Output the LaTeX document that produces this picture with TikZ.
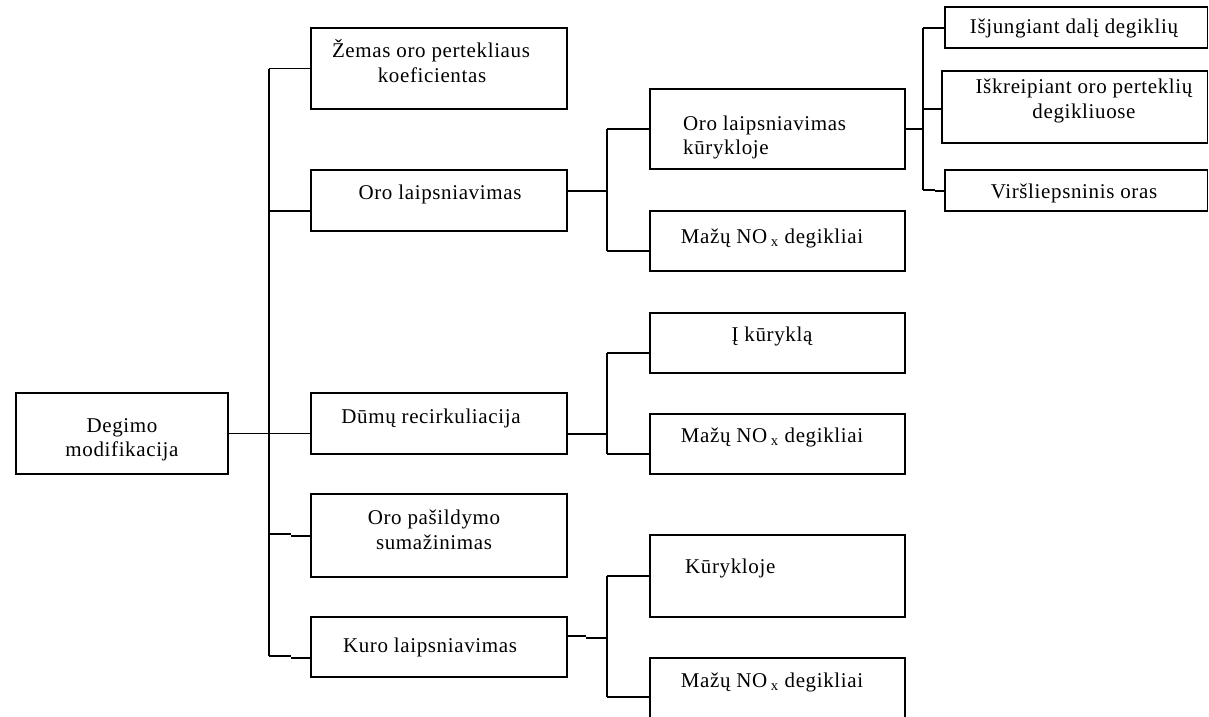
\documentclass[tikz,border=0pt]{standalone}
\usepackage{fontspec}
\setmainfont{Liberation Serif}[LetterSpace=3]
\begin{document}
\begin{tikzpicture}[x=1pt,y=-1pt,
  box/.style={draw=black,line width=1.4pt,rectangle,inner sep=0pt},
  ln/.style={draw=black,line width=1.4pt},
  txt/.style={inner sep=0pt,font=\fontsize{21}{25}\selectfont}]
\useasboundingbox (0,0) rectangle (1209,716);
\clip (0,0) rectangle (1209,716);
% boxes
\node[box,minimum width=212pt,minimum height=81pt] (root) at (122,433.5) {};
\node[box,minimum width=256pt,minimum height=81pt] (a1) at (439,68.5) {};
\node[box,minimum width=256pt,minimum height=61pt] (a2) at (439,200.5) {};
\node[box,minimum width=256pt,minimum height=61pt] (a3) at (439,423.5) {};
\node[box,minimum width=256pt,minimum height=83pt] (a4) at (439,535.5) {};
\node[box,minimum width=256pt,minimum height=60pt] (a5) at (439,647) {};
\node[box,minimum width=255pt,minimum height=80pt] (b1) at (777.5,129) {};
\node[box,minimum width=255pt,minimum height=60pt] (b2) at (777.5,241) {};
\node[box,minimum width=255pt,minimum height=60pt] (b3) at (777.5,343) {};
\node[box,minimum width=255pt,minimum height=60pt] (b4) at (777.5,444) {};
\node[box,minimum width=255pt,minimum height=82pt] (b5) at (777.5,576) {};
\node[box,minimum width=255pt,minimum height=102pt] (b6) at (777.5,709) {};
\node[box,minimum width=262.5pt,minimum height=41pt] (c1) at (1076.25,27.5) {};
\node[box,minimum width=265.5pt,minimum height=72pt] (c2) at (1074.75,107) {};
\node[box,minimum width=262.5pt,minimum height=41pt] (c3) at (1076.25,190.5) {};
% texts
\node[txt,anchor=base] (troot1) at (122,432) {Degimo};
\node[txt,anchor=base] (troot2) at (122,456) {modifikacija};
\node[txt,anchor=base] (ta1a) at (431,57) {Žemas oro pertekliaus};
\node[txt,anchor=base] (ta1b) at (432,82) {koeficientas};
\node[txt,anchor=base] (ta2) at (440,199) {Oro laipsniavimas};
\node[txt,anchor=base] (ta3) at (431,423) {Dūmų recirkuliacija};
\node[txt,anchor=base] (ta4a) at (434,524) {Oro pašildymo};
\node[txt,anchor=base] (ta4b) at (434,549) {sumažinimas};
\node[txt,anchor=base] (ta5) at (430,652) {Kuro laipsniavimas};
\node[txt,anchor=base west] (tb1a) at (683,130) {Oro laipsniavimas};
\node[txt,anchor=base west] (tb1b) at (683,154) {kūrykloje};
\node[txt,anchor=base] (tb2) at (772,243) {Mažų NO\,\textsubscript{x} degikliai};
\node[txt,anchor=base] (tb3) at (772,341) {Į kūryklą};
\node[txt,anchor=base] (tb4) at (772,442) {Mažų NO\,\textsubscript{x} degikliai};
\node[txt,anchor=base west] (tb5) at (685,573) {Kūrykloje};
\node[txt,anchor=base] (tb6) at (772,687) {Mažų NO\,\textsubscript{x} degikliai};
\node[txt,anchor=base] (tc1) at (1074,33) {Išjungiant dalį degiklių};
\node[txt,anchor=base] (tc2a) at (1084,93) {Iškreipiant oro perteklių};
\node[txt,anchor=base] (tc2b) at (1084,118) {degikliuose};
\node[txt,anchor=base] (tc3) at (1074,198) {Viršliepsninis oras};
% level 0 -> 1
\coordinate (j1) at (269,68.5);
\coordinate (j2) at (269,211);
\coordinate (j4) at (269,534);
\coordinate (j4b) at (291,534);
\coordinate (j4c) at (291,536);
\coordinate (j5) at (269,656);
\coordinate (j5b) at (291,656);
\coordinate (j5c) at (291,658);
\draw[ln] (root.east) -- (root.east -| a3.west);
\draw[ln] (j1) -- (j5);
\draw[ln] (j1) -- (a1.west);
\draw[ln] (j2) -- (j2 -| a2.west);
\draw[ln] (j4) -- (j4b);
\draw[ln] (j4c) -- (j4c -| a4.west);
\draw[ln] (j5) -- (j5b);
\draw[ln] (j5c) -- (j5c -| a5.west);
% a2 -> b1, b2
\coordinate (h1) at (607,191);
\coordinate (h1t) at (607,129);
\coordinate (h1b) at (607,251);
\draw[ln] (h1 -| a2.east) -- (h1);
\draw[ln] (h1t) -- (h1b);
\draw[ln] (h1t) -- (b1.west);
\draw[ln] (h1b) -- (h1b -| b2.west);
% a3 -> b3, b4
\coordinate (h2) at (607,434);
\coordinate (h2t) at (607,353);
\coordinate (h2b) at (607,454);
\draw[ln] (h2 -| a3.east) -- (h2);
\draw[ln] (h2t) -- (h2b);
\draw[ln] (h2t) -- (h2t -| b3.west);
\draw[ln] (h2b) -- (h2b -| b4.west);
% a5 -> b5, b6
\coordinate (h3a) at (586,636);
\coordinate (h3b) at (586,638);
\coordinate (h3) at (607,638);
\coordinate (h3t) at (607,576);
\coordinate (h3bt) at (607,697);
\draw[ln] (h3a -| a5.east) -- (h3a);
\draw[ln] (h3b) -- (h3);
\draw[ln] (h3t) -- (h3bt);
\draw[ln] (h3t) -- (b5.west);
\draw[ln] (h3bt) -- (h3bt -| b6.west);
% b1 -> c1, c2, c3
\coordinate (h4) at (923,129);
\coordinate (h4t) at (923,28);
\coordinate (h4m) at (923,109);
\coordinate (h4b) at (923,190);
\coordinate (h4bb) at (935,190);
\coordinate (h4bc) at (935,191);
\draw[ln] (b1.east) -- (h4);
\draw[ln] (h4t) -- (h4b);
\draw[ln] (h4t) -- (h4t -| c1.west);
\draw[ln] (h4m) -- (h4m -| c2.west);
\draw[ln] (h4b) -- (h4bb);
\draw[ln] (h4bc) -- (h4bc -| c3.west);
\end{tikzpicture}
\end{document}
